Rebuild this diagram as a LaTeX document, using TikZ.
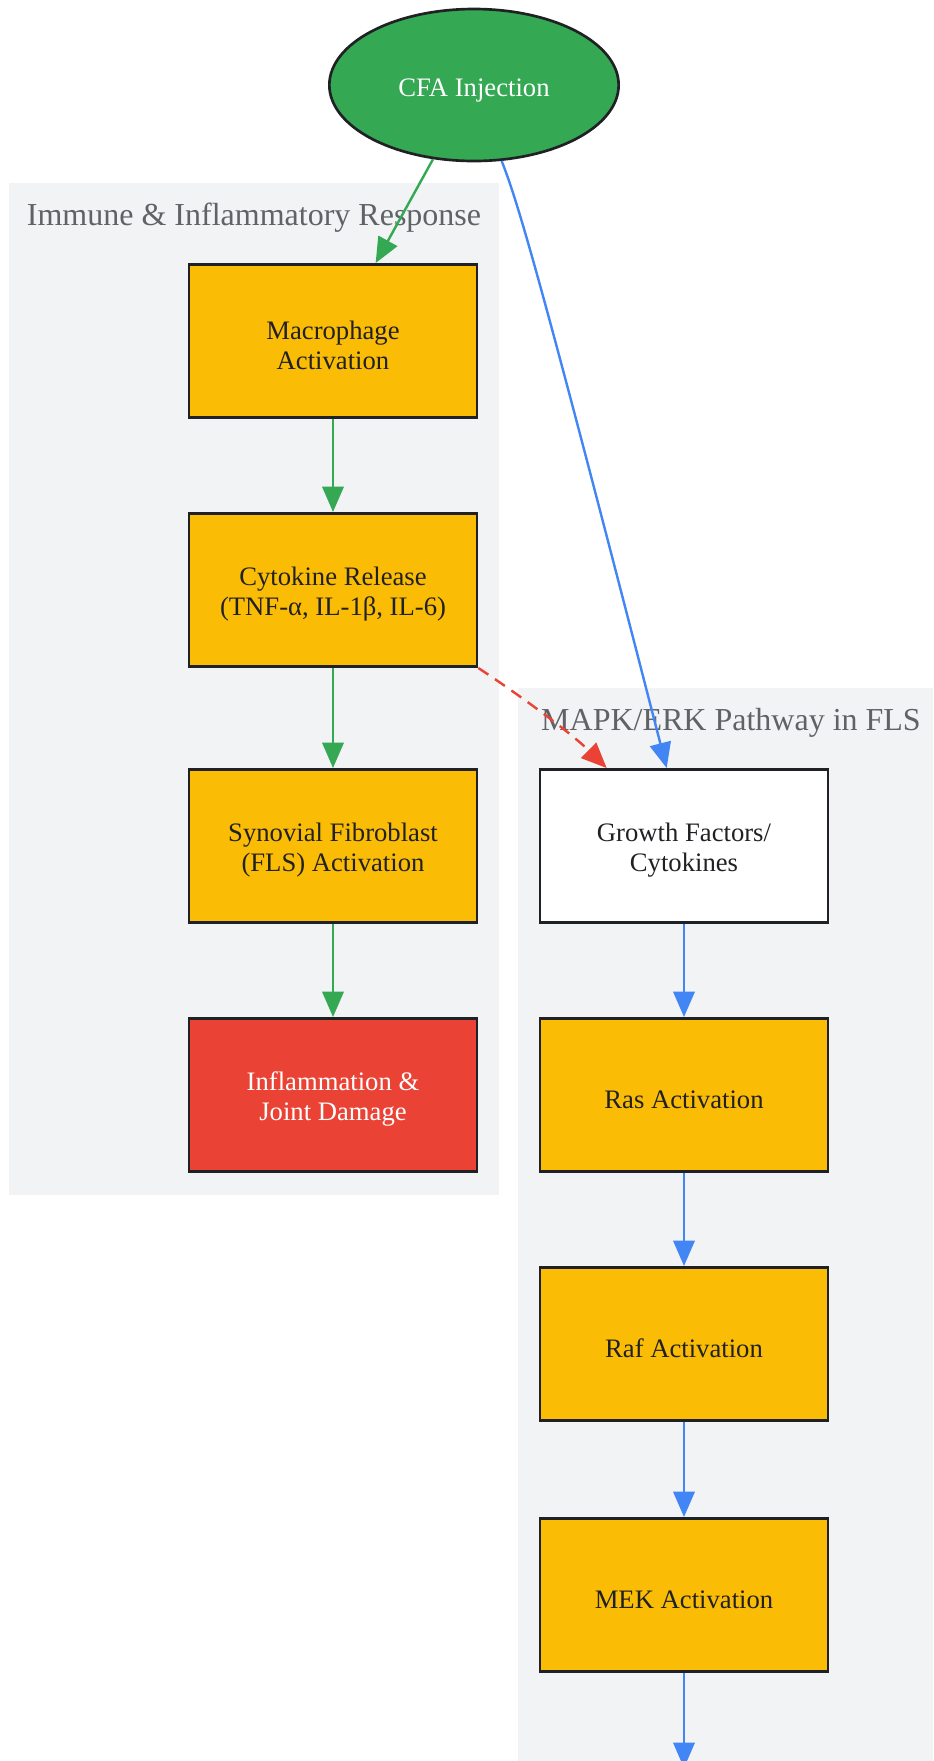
\documentclass[tikz,border=0pt]{standalone}
\usepackage{fontspec}
\setmainfont{Liberation Serif}
\usetikzlibrary{shapes.geometric,arrows.meta}
\definecolor{panel}{HTML}{F1F3F4}
\definecolor{ink}{HTML}{202124}
\definecolor{labelgray}{HTML}{5F6368}
\definecolor{amber}{HTML}{FBBC05}
\definecolor{gred}{HTML}{EA4335}
\definecolor{ggreen}{HTML}{34A853}
\definecolor{gblue}{HTML}{4285F4}
\newcommand{\topstrut}{\rule{0pt}{20.5pt}}
\tikzset{
  stepbox/.style={draw=ink, line width=2pt, fill=amber, text=ink, minimum width=216pt,
    minimum height=115pt, align=center, font=\fontsize{20}{22.5}\selectfont},
  cluster/.style={fill=panel, draw=none},
  clusterlabel/.style={anchor=base, text=labelgray, font=\fontsize{24}{28}\selectfont},
  flow/.style={line width=1.8pt, -{Triangle[length=19pt,width=16pt]}},
}
\begin{document}
\begin{tikzpicture}[x=0.75pt,y=-0.75pt]
  \useasboundingbox (0,0) rectangle (933,1761);
  % clusters
  \fill[cluster] (9,183) rectangle (499,1195);
  \fill[cluster] (518,688) rectangle (933,1761);
  \node[clusterlabel] (immlabel) at (254,225) {Immune \& Inflammatory Response};
  \node[clusterlabel] (mapklabel) at (731,730) {MAPK/ERK Pathway in FLS};

  % nodes
  \node[ellipse, draw=ink, line width=2pt, fill=ggreen, text=white, minimum width=217pt,
    minimum height=114pt, font=\fontsize{20}{22.5}\selectfont] (cfa) at (474,85) {\rule{0pt}{22pt}CFA Injection};
  \node[stepbox] (mac) at (333,341) {\topstrut Macrophage\\Activation};
  \node[stepbox] (cyt) at (333,590) {\topstrut Cytokine Release\\(TNF-α, IL-1β, IL-6)};
  \node[stepbox] (fls) at (333,846) {\topstrut Synovial Fibroblast\\(FLS) Activation};
  \node[stepbox, fill=gred, text=white] (dmg) at (333,1095) {\topstrut Inflammation \&\\Joint Damage};
  \node[stepbox, fill=white] (gf) at (684,846) {\topstrut Growth Factors/\\Cytokines};
  \node[stepbox] (ras) at (684,1095) {\topstrut Ras Activation};
  \node[stepbox] (raf) at (684,1344) {\topstrut Raf Activation};
  \node[stepbox] (mek) at (684,1595) {\topstrut MEK Activation};
  \coordinate (next) at (684,1768);

  % edges
  \draw[flow, ggreen] (cfa) -- ([xshift=32pt]mac.north);
  \draw[flow, ggreen] (mac) -- (cyt);
  \draw[flow, ggreen] (cyt) -- (fls);
  \draw[flow, ggreen] (fls) -- (dmg);
  \draw[flow, gblue] (cfa.-70) .. controls (518,202) and (541,280) .. ([xshift=-13pt]gf.north);
  \draw[flow, gred, dash pattern=on 9pt off 6pt] (cyt.south east) .. controls (515,692) and (570,732) .. ([xshift=-58pt]gf.north);
  \draw[flow, gblue] (gf) -- (ras);
  \draw[flow, gblue] (ras) -- (raf);
  \draw[flow, gblue] (raf) -- (mek);
  \draw[flow, gblue] (mek) -- (next);
\end{tikzpicture}
\end{document}
